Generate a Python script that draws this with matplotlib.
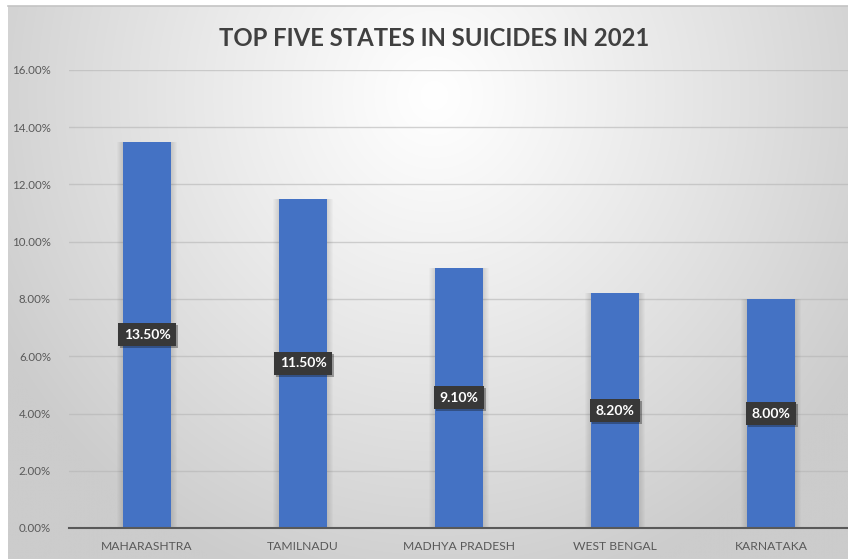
import numpy as np
import matplotlib
matplotlib.use("Agg")
import matplotlib.pyplot as plt
import matplotlib.patheffects as pe
from matplotlib.ticker import FuncFormatter, MultipleLocator

states = ["MAHARASHTRA", "TAMILNADU", "MADHYA PRADESH", "WEST BENGAL", "KARNATAKA"]
shares = [13.50, 11.50, 9.10, 8.20, 8.00]
title = "TOP FIVE STATES IN SUICIDES IN 2021"

plt.rcParams['font.family'] = ['Lato', 'DejaVu Sans']

W, H = 848, 559
fig = plt.figure(figsize=(W / 100, H / 100), dpi=100)
fig.patch.set_facecolor("white")

# background radial gradient (chart area)
bg = fig.add_axes([8 / W, 0, 1 - 8 / W, 1 - 6 / H], zorder=-10)
yy, xx = np.mgrid[0:H, 0:W]
cx, cy = 430, 90
d = np.sqrt(((xx - cx) / 500.0) ** 2 + ((yy - cy) / 520.0) ** 2)
d = np.clip(d, 0, 1)
val = 1.0 - 0.2 * d ** 1.1
img = np.dstack([val, val, val])
bg.imshow(img, aspect="auto", extent=[0, 1, 0, 1], interpolation="bilinear")
bg.set_axis_off()
fig.add_artist(plt.Line2D([8 / W, 1], [1 - 6 / H, 1 - 6 / H], color="#c4c4c4", lw=1.2,
                          transform=fig.transFigure))

ax = fig.add_axes([69 / W, 1 - 528 / H, 780 / W, 458 / H])
ax.set_facecolor("none")
x = np.arange(len(states))

# soft shadow around bars
for k in range(6, 0, -1):
    ax.bar(x, shares, width=0.31 + k * 0.012, color="#000000", alpha=0.018, zorder=2,
           linewidth=0)
ax.bar(x, shares, width=0.31, color="#4472C4", zorder=3, linewidth=0)

ax.set_xlim(-0.5, 4.5)
ax.set_ylim(0, 16)
ax.yaxis.set_major_locator(MultipleLocator(2))
ax.yaxis.set_major_formatter(FuncFormatter(lambda v, p: f"{v:.2f}%"))
ax.grid(axis="y", color="#b5b5b5", lw=1.0, alpha=0.6, zorder=0)
ax.set_axisbelow(True)
for s in ["top", "right", "left"]:
    ax.spines[s].set_visible(False)
ax.spines["bottom"].set_color("#595959")
ax.spines["bottom"].set_linewidth(1.5)
ax.spines["bottom"].set_zorder(4)
ax.set_xticks(x)
ax.set_xticklabels(states)
ax.tick_params(axis="both", length=0, colors="#595959")
ax.tick_params(axis="y", pad=13, labelsize=8.3)
ax.tick_params(axis="x", pad=9, labelsize=8.7)

for xi, v in zip(x, shares):
    ax.text(xi, v / 2, f"{v:.2f}%", ha="center", va="center", color="white",
            fontsize=10, fontweight="bold", zorder=6,
            bbox=dict(boxstyle="square,pad=0.4", fc="#383838", ec="none",
                      path_effects=[pe.SimplePatchShadow(offset=(1.5, -1.5), alpha=0.35),
                                    pe.Normal()]))

fig.text(434 / W, 1 - 38 / H, title, ha="center", va="center", fontsize=17.2,
         fontweight="bold", color="#404040")

fig.savefig("out.png", dpi=100)
